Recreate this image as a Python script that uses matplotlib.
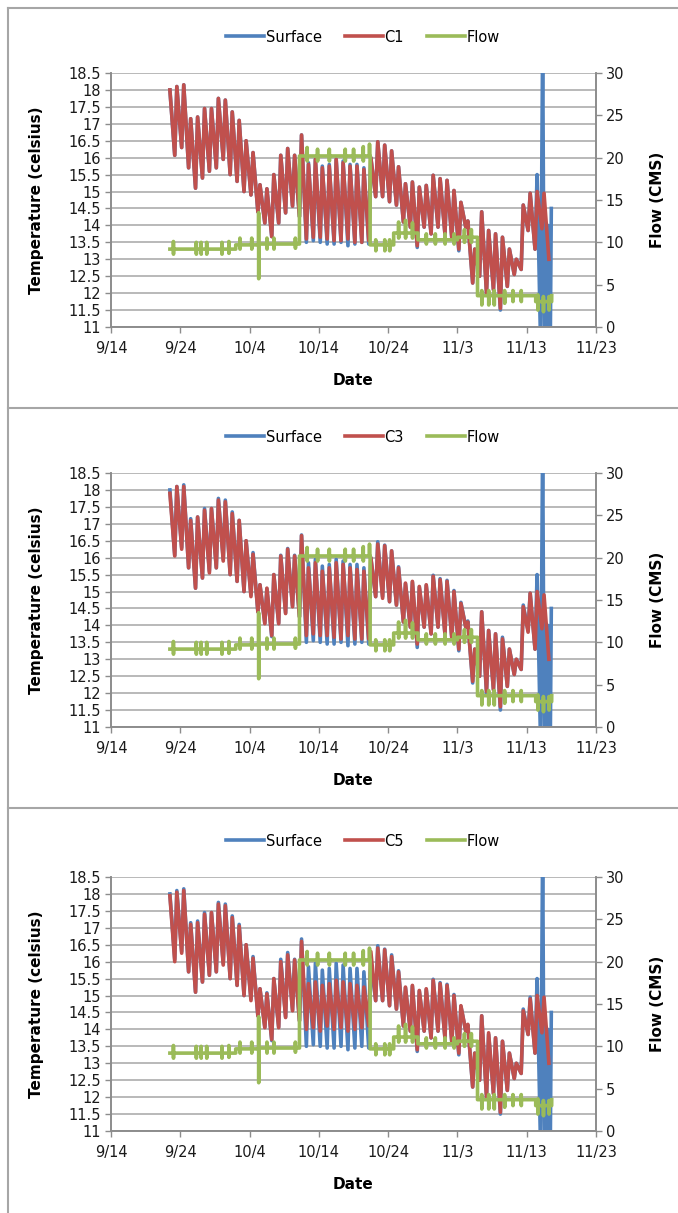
import numpy as np
import matplotlib.pyplot as plt
from matplotlib.lines import Line2D

# x axis: days since 9/14
date_ticks = [0, 10, 20, 30, 40, 50, 60, 70]
date_labels = ['9/14', '9/24', '10/4', '10/14', '10/24', '11/3', '11/13', '11/23']
temp_ticks = [11, 11.5, 12, 12.5, 13, 13.5, 14, 14.5, 15, 15.5, 16, 16.5, 17, 17.5, 18, 18.5]
temp_labels = ['11', '11.5', '12', '12.5', '13', '13.5', '14', '14.5', '15', '15.5',
               '16', '16.5', '17', '17.5', '18', '18.5']
flow_ticks = [0, 5, 10, 15, 20, 25, 30]

# daily highs (afternoon) and lows
peak_days = np.arange(8.5, 63.0, 1.0)
trough_days = peak_days + 0.7

c1_hi = [18.0, 18.1, 18.15, 17.15, 17.2, 17.45, 17.45, 17.75, 17.7, 17.35,
         17.1, 16.5, 16.15, 15.2, 15.08, 15.5, 16.07, 16.27, 16.07, 16.67,
         15.8, 15.95, 15.7, 15.75, 15.95, 15.85, 15.75, 15.75, 15.65, 16.0,
         16.47, 16.37, 16.2, 15.73, 15.23, 15.28, 15.13, 15.18, 15.48, 15.38,
         15.33, 15.03, 14.68, 14.13, 13.3, 14.4, 13.85, 13.75, 13.65, 13.3,
         13.0, 14.6, 14.95, 15.0, 14.95]
c1_lo = [16.07, 16.3, 15.7, 15.1, 15.4, 15.6, 15.7, 15.95, 15.5, 15.3,
         15.0, 14.9, 14.4, 14.07, 13.67, 14.07, 14.37, 14.57, 14.26, 13.6,
         13.65, 13.65, 13.6, 13.55, 13.55, 13.6, 13.5, 13.5, 13.55, 14.85,
         14.85, 14.7, 14.6, 14.1, 13.95, 13.4, 13.95, 13.75, 13.95, 13.75,
         13.6, 13.3, 13.95, 12.3, 12.5, 12.0, 12.1, 11.55, 12.2, 12.55,
         12.7, 13.85, 13.3, 13.9, 13.0]

c3_hi = [17.9, 18.1, 18.1, 17.1, 17.2, 17.4, 17.45, 17.7, 17.65, 17.3,
         17.1, 16.5, 16.1, 15.2, 15.1, 15.5, 16.05, 16.25, 16.05, 16.65,
         15.7, 15.85, 15.6, 15.7, 15.85, 15.8, 15.7, 15.65, 15.6, 16.0,
         16.4, 16.35, 16.2, 15.7, 15.25, 15.3, 15.15, 15.2, 15.45, 15.35,
         15.3, 15.0, 14.65, 14.1, 13.3, 14.4, 13.85, 13.75, 13.6, 13.3,
         13.0, 14.55, 14.95, 15.0, 14.9]
c3_lo = [16.05, 16.25, 15.7, 15.1, 15.4, 15.55, 15.7, 15.9, 15.5, 15.3,
         15.0, 14.85, 14.4, 14.05, 13.7, 14.05, 14.35, 14.55, 14.25, 13.7,
         13.75, 13.7, 13.7, 13.65, 13.6, 13.7, 13.6, 13.6, 13.6, 14.85,
         14.8, 14.7, 14.6, 14.1, 13.95, 13.45, 13.95, 13.75, 13.95, 13.75,
         13.6, 13.3, 13.95, 12.35, 12.5, 12.05, 12.1, 11.6, 12.2, 12.55,
         12.7, 13.8, 13.3, 13.9, 13.0]

c5_hi = [17.95, 18.05, 18.1, 17.1, 17.15, 17.4, 17.45, 17.7, 17.65, 17.3,
         17.05, 16.5, 16.1, 15.2, 15.05, 15.5, 16.0, 16.2, 16.05, 16.6,
         15.35, 15.4, 15.3, 15.35, 15.45, 15.4, 15.35, 15.3, 15.25, 16.3,
         16.4, 16.35, 16.15, 15.7, 15.25, 15.3, 15.15, 15.2, 15.45, 15.35,
         15.3, 15.0, 14.7, 14.15, 13.3, 14.4, 13.9, 13.75, 13.65, 13.3,
         13.0, 14.55, 14.9, 15.0, 14.95]
c5_lo = [16.0, 16.25, 15.7, 15.1, 15.4, 15.6, 15.7, 15.9, 15.5, 15.3,
         15.0, 14.85, 14.4, 14.05, 13.7, 14.05, 14.35, 14.55, 14.25, 14.0,
         14.05, 13.95, 14.1, 14.0, 14.05, 13.95, 14.0, 14.05, 14.1, 14.85,
         14.85, 14.7, 14.6, 14.1, 13.95, 13.4, 13.95, 13.75, 13.95, 13.75,
         13.6, 13.3, 13.95, 12.3, 12.5, 12.0, 12.1, 11.55, 12.2, 12.55,
         12.7, 13.85, 13.3, 13.9, 13.0]

sfc_hi = [18.0, 18.1, 18.15, 17.15, 17.2, 17.45, 17.45, 17.75, 17.7, 17.35,
          17.1, 16.5, 16.15, 15.2, 15.08, 15.5, 16.07, 16.27, 16.07, 16.67,
          15.85, 15.95, 15.75, 15.8, 15.95, 15.9, 15.8, 15.8, 15.7, 16.0,
          16.47, 16.37, 16.2, 15.73, 15.23, 15.28, 15.13, 15.18, 15.48, 15.38,
          15.33, 15.03, 14.68, 14.13, 13.3, 14.4, 13.85, 13.75, 13.65, 13.3,
          13.0, 14.6, 14.95, 15.5]
sfc_lo = [16.07, 16.3, 15.7, 15.1, 15.4, 15.6, 15.7, 15.95, 15.5, 15.3,
          15.0, 14.9, 14.4, 14.07, 13.67, 14.07, 14.37, 14.57, 14.26, 13.5,
          13.55, 13.5, 13.45, 13.45, 13.5, 13.4, 13.45, 13.5, 13.45, 14.85,
          14.85, 14.7, 14.6, 14.1, 13.95, 13.35, 13.95, 13.75, 13.95, 13.75,
          13.6, 13.25, 13.95, 12.3, 12.5, 12.0, 12.1, 11.5, 12.2, 12.55,
          12.7, 13.85, 13.3]
# probe failure at the end (goes off scale)
sfc_tail_days = [62.0, 62.3, 62.45, 62.6, 62.75, 62.9, 63.05, 63.25, 63.4, 63.55]
sfc_tail_vals = [10.5, 19.5, 13.5, 10.5, 13.9, 10.5, 14.0, 10.5, 10.5, 14.5]

# flow: base levels and short spikes
flow_start = [8.5, 18.0, 21.3, 27.2, 37.4, 40.8, 44.3, 50.0, 52.9, 61.3]
flow_level = [9.2, 9.7, 9.8, 20.2, 9.7, 11.1, 10.3, 10.6, 3.7, 3.0]
flow_end_day, flow_end_val = 63.6, 3.7
spike_days = [9.0, 12.3, 13.0, 13.8, 16.0, 17.0, 18.6, 20.3, 21.3, 22.5, 23.5, 26.6,
              28.3, 29.8, 31.5, 33.8, 35.0, 36.4, 37.3, 38.2, 39.5, 40.2, 41.5, 42.5,
              43.5, 45.5, 46.8, 48.2, 49.5, 51.0, 52.0, 53.5, 54.5, 55.3, 56.8, 58.0,
              59.2, 61.6, 62.4, 63.2]
spike_hi = [10.1, 10.0, 10.0, 10.0, 10.0, 10.1, 10.5, 10.5, 13.5, 10.5, 10.5, 10.5,
            21.2, 21.0, 21.0, 21.0, 21.0, 21.3, 21.6, 10.3, 10.3, 10.3, 12.4, 12.6,
            12.3, 11.0, 11.0, 11.0, 11.0, 11.5, 11.5, 4.3, 4.3, 4.3, 4.3, 4.3,
            4.3, 3.8, 3.6, 3.6]
spike_lo = [8.6, 8.6, 8.6, 8.6, 8.6, 8.7, 9.2, 9.2, 5.7, 9.2, 9.2, 9.3,
            19.6, 19.6, 19.6, 19.6, 19.6, 19.6, 20.2, 9.0, 9.0, 9.0, 10.5, 10.5,
            10.5, 9.8, 9.8, 9.8, 9.8, 10.0, 10.0, 2.6, 2.6, 2.6, 2.8, 3.0,
            3.0, 2.0, 1.8, 2.0]


def zigzag(hd, hv, ld, lv):
    d = np.concatenate([hd, ld])
    v = np.concatenate([hv, lv])
    order = np.argsort(d)
    return d[order], v[order]


def flow_line():
    events = []
    for i, s in enumerate(flow_start):
        if i > 0:
            events.append((s, flow_level[i - 1]))
        events.append((s, flow_level[i]))
    for d, h, l in zip(spike_days, spike_hi, spike_lo):
        lvl = flow_level[np.searchsorted(flow_start, d, side='right') - 1]
        events += [(d, lvl), (d + 0.01, h), (d + 0.02, l), (d + 0.03, lvl)]
    events.sort(key=lambda e: e[0])
    events.append((flow_end_day, flow_level[-1]))
    events.append((flow_end_day + 0.01, flow_end_val))
    return [e[0] for e in events], [e[1] for e in events]


sd, sv = zigzag(peak_days[:len(sfc_hi)], sfc_hi, trough_days[:len(sfc_lo)], sfc_lo)
sd = np.concatenate([sd, sfc_tail_days])
sv = np.concatenate([sv, sfc_tail_vals])
fd, fv = flow_line()

panels = [('C1', c1_hi, c1_lo), ('C3', c3_hi, c3_lo), ('C5', c5_hi, c5_lo)]

BLUE = '#4F81BD'
RED = '#C0504D'
GREEN = '#9BBB59'
GRID = '#b9b9b9'
AX = '#8c8c8c'
FONT = ['Liberation Sans Narrow', 'DejaVu Sans']
LW = 2.6

W, H = 678, 1213
fig = plt.figure(figsize=(W / 100, H / 100), dpi=100)

tops = [73, 473, 877]
left, right = 111, 596
ph = 254

for (name, hi, lo), top in zip(panels, tops):
    ax = fig.add_axes([left / W, 1 - (top + ph) / H, (right - left) / W, ph / H])
    ax2 = ax.twinx()

    ax.plot(sd, sv, color=BLUE, lw=LW, label='Surface', zorder=2)
    cd, cv = zigzag(peak_days, hi, trough_days, lo)
    ax.plot(cd, cv, color=RED, lw=LW, label=name, zorder=3)
    ax2.plot(fd, fv, color=GREEN, lw=LW, label='Flow')

    ax.set_xlim(0, 70)
    ax.set_ylim(11, 18.5)
    ax2.set_ylim(0, 30)
    ax.set_xticks(date_ticks)
    ax.set_xticklabels(date_labels, family=FONT, fontsize=10.5)
    ax.set_yticks(temp_ticks)
    ax.set_yticklabels(temp_labels, family=FONT, fontsize=10.5)
    ax2.set_yticks(flow_ticks)
    ax2.set_yticklabels([str(t) for t in flow_ticks], family=FONT, fontsize=10.5)

    ax.yaxis.grid(True, color=GRID, lw=1.4)
    ax.set_axisbelow(True)
    for a in (ax, ax2):
        a.spines['top'].set_visible(False)
        for s in ('left', 'right', 'bottom'):
            a.spines[s].set_color(AX)
            a.spines[s].set_linewidth(1.2)
        a.tick_params(direction='out', length=4, width=1, color=AX,
                      labelcolor='#1a1a1a', pad=3)
    ax.tick_params(axis='x', pad=6)

    ax.set_ylabel('Temperature (celsius)', family=FONT, fontsize=11, fontweight='bold')
    ax.yaxis.set_label_coords(-0.138, 0.5)
    ax2.set_ylabel('Flow (CMS)', family=FONT, fontsize=11, fontweight='bold')
    ax2.yaxis.set_label_coords(1.112, 0.5)
    ax.set_xlabel('Date', family=FONT, fontsize=11, fontweight='bold')
    ax.xaxis.set_label_coords(0.5, -0.18)

    handles = [Line2D([], [], color=BLUE, lw=LW),
               Line2D([], [], color=RED, lw=LW),
               Line2D([], [], color=GREEN, lw=LW)]
    ax.legend(handles, ['Surface', name, 'Flow'], loc='center',
              bbox_to_anchor=(0.52, 1 + 36 / ph), ncol=3, frameon=False,
              handlelength=2.6, handletextpad=0.1, columnspacing=1.6,
              prop={'family': FONT, 'size': 10.5})

# page frame around the three panels
frame = dict(color='#a6a6a6', lw=1.5, transform=fig.transFigure)
fig.add_artist(Line2D([8 / W, 8 / W], [1 - 8 / H, 0], **frame))
for y in (8, 408, 808):
    fig.add_artist(Line2D([8 / W, 1], [1 - y / H, 1 - y / H], **frame))

fig.savefig('out.png', dpi=100)
